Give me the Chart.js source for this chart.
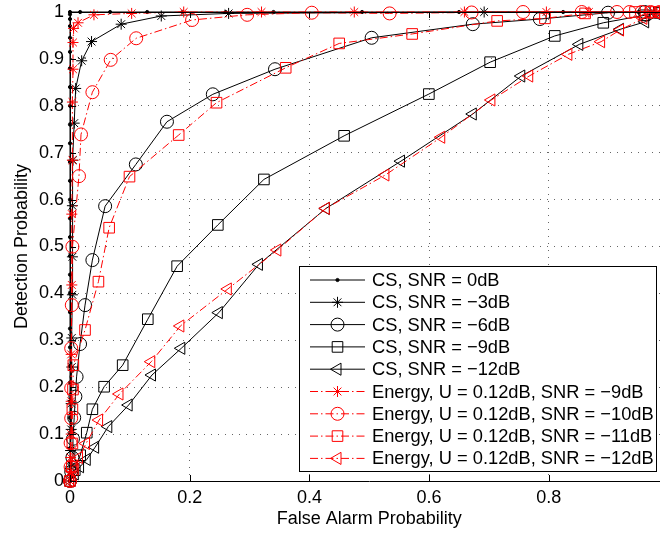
<!DOCTYPE html>
<html><head><meta charset="utf-8">
<script src="https://cdn.jsdelivr.net/npm/chart.js@4.4.0/dist/chart.umd.min.js"></script>
<style>html,body{margin:0;padding:0;overflow:hidden;background:#fff;width:660px;height:535px}#wrap{width:660px;height:535px;overflow:hidden;position:relative}#c{position:absolute;left:0;top:0}</style>
</head><body><div id="wrap"><canvas id="c" width="677" height="535"></canvas></div>
<script>
const xTickLabels = ['0','0.2','0.4','0.6','0.8','1'];
const yTickLabels = ['0','0.1','0.2','0.3','0.4','0.5','0.6','0.7','0.8','0.9','1'];
const xTitle = 'False Alarm Probability';
const yTitle = 'Detection Probability';
const seriesLabels = [
  'CS, SNR = 0dB','CS, SNR = \u22123dB','CS, SNR = \u22126dB','CS, SNR = \u22129dB','CS, SNR = \u221212dB',
  'Energy, U = 0.12dB, SNR = \u22129dB','Energy, U = 0.12dB, SNR = \u221210dB',
  'Energy, U = 0.12dB, SNR = \u221211dB','Energy, U = 0.12dB, SNR = \u221212dB'
];

const cs0_x = [0,0,0,0,0,0,0,0,0,0,0,0,0,0,0,0,0,0,0,0,0,0,0,0,0,0,0,0,0,0,0, 0.017,0.067,0.129,0.188,0.26,0.34,0.488,0.65,0.824,0.95,1];
const cs0_y = [0,0.015,0.04,0.07,0.1,0.135,0.17,0.21,0.245,0.285,0.325,0.36,0.4,0.44,0.48,0.52,0.56,0.6,0.64,0.68,0.72,0.76,0.8,0.84,0.88,0.915,0.945,0.97,0.985,0.995,1, 1,1,1,1,1,1,1,1,1,1,1];

const cs3_x = [0,0.001,0.001,0.002,0.002,0.003,0.003,0.004,0.004,0.004,0.005,0.007,0.0095,0.0195,0.036,0.0855,0.1525,0.265,0.692,0.975,1];
const cs3_y = [0,0.03,0.065,0.11,0.165,0.243,0.305,0.397,0.478,0.587,0.684,0.763,0.837,0.896,0.937,0.974,0.9915,0.997,1,1,1];

const cs6_x = [0,0.002,0.004,0.005,0.007,0.009,0.011,0.0168,0.0251,0.0374,0.0587,0.110,0.162,0.2386,0.3425,0.504,0.673,0.785,0.899,0.96,1];
const cs6_y = [0,0.02,0.05,0.09,0.135,0.18,0.222,0.292,0.375,0.471,0.586,0.675,0.766,0.8245,0.878,0.945,0.974,0.985,0.9985,1,1];

const cs9_x = [0,0.008,0.017,0.028,0.0374,0.057,0.088,0.130,0.179,0.247,0.324,0.458,0.5996,0.702,0.810,0.891,0.96,0.985,1];
const cs9_y = [0,0.023,0.055,0.103,0.153,0.201,0.247,0.345,0.458,0.546,0.643,0.736,0.825,0.893,0.949,0.977,0.993,0.998,1];

const cs12_x = [0,0.008,0.0168,0.028,0.042,0.064,0.098,0.137,0.186,0.2487,0.3157,0.4275,0.553,0.673,0.754,0.851,0.919,0.961,0.985,1];
const cs12_y = [0,0.015,0.0305,0.046,0.072,0.116,0.162,0.226,0.283,0.359,0.462,0.581,0.682,0.7825,0.8635,0.931,0.963,0.979,0.993,1];

const en9_x = [0,0.001,0.001,0.002,0.002,0.002,0.003,0.003,0.004,0.004,0.005,0.005,0.006,0.0134,0.04,0.103,0.19,0.32,0.475,0.659,0.796,0.867,0.97,0.985,1];
const en9_y = [0,0.02,0.05,0.1,0.17,0.27,0.418,0.569,0.684,0.808,0.878,0.935,0.965,0.977,0.994,0.997,1,1,1,1,1,1,1,1,1];

const en10_x = [0,0.001,0.001,0.002,0.002,0.002,0.003,0.004,0.015,0.0184,0.0374,0.068,0.1106,0.204,0.296,0.404,0.534,0.671,0.757,0.855,0.914,0.935,0.955,0.97,0.985,1];
const en10_y = [0,0.03,0.081,0.134,0.198,0.283,0.375,0.4995,0.650,0.739,0.829,0.898,0.944,0.983,0.994,0.9985,0.997,0.999,1,1,1,1,1,1,1,1];

const en11_x = [0,0.003,0.004,0.004,0.005,0.0056,0.0251,0.0475,0.0654,0.0994,0.1816,0.2448,0.3604,0.4498,0.5717,0.7137,0.7936,0.8606,0.944,0.97,0.985,1];
const en11_y = [0,0.03,0.08,0.153,0.195,0.247,0.322,0.425,0.540,0.649,0.7377,0.8066,0.881,0.933,0.9532,0.981,0.9865,0.997,1,1,1,1];

const en12_x = [0,0.008,0.015,0.0268,0.0486,0.0827,0.1358,0.1844,0.2637,0.3465,0.4275,0.527,0.6203,0.7041,0.7673,0.8327,0.8874,0.919,0.958,0.985,1];
const en12_y = [0,0.025,0.05,0.080,0.130,0.1855,0.2544,0.3305,0.4094,0.4925,0.5814,0.6525,0.733,0.8124,0.8635,0.9098,0.9367,0.9616,0.9865,0.995,1];

const FONT = '"Liberation Sans", Arial, Helvetica, sans-serif';
const pts = (xs, ys) => xs.map((x, i) => ({x, y: ys[i]}));
const DASHDOT = [8,3,1.5,3];

function mk(i, xs, ys, color, style, radius, dash, opts) {
  return Object.assign({
    label: seriesLabels[i], data: pts(xs, ys), showLine: true, tension: 0, fill: false,
    borderColor: color, borderWidth: 1, borderDash: dash,
    pointStyle: style, pointRadius: radius, pointBorderWidth: 1,
    pointBorderColor: color, pointBackgroundColor: 'rgba(0,0,0,0)',
    pointHoverRadius: radius, clip: false, order: 8 - i
  }, opts || {});
}

const datasets = [
  mk(0, cs0_x, cs0_y, '#000', 'circle', 1.6, [], {pointBackgroundColor: '#000'}),
  mk(1, cs3_x, cs3_y, '#000', 'star', 5.5, []),
  mk(2, cs6_x, cs6_y, '#000', 'circle', 6.5, []),
  mk(3, cs9_x, cs9_y, '#000', 'rect', 7.5, []),
  mk(4, cs12_x, cs12_y, '#000', 'triangle', 7, [], {pointRotation: -90}),
  mk(5, en9_x, en9_y, '#ff0000', 'star', 5.5, DASHDOT),
  mk(6, en10_x, en10_y, '#ff0000', 'circle', 6.5, DASHDOT),
  mk(7, en11_x, en11_y, '#ff0000', 'rect', 7.5, DASHDOT),
  mk(8, en12_x, en12_y, '#ff0000', 'triangle', 7, DASHDOT, {pointRotation: -90})
];

const framePlugin = {
  id: 'matlabFrame',
  afterDatasetsDraw(chart) {
    const ctx = chart.ctx, a = chart.chartArea;
    const xs = chart.scales.x, ys = chart.scales.y;
    ctx.save();
    ctx.strokeStyle = '#000'; ctx.lineWidth = 1; ctx.setLineDash([]);
    ctx.beginPath();
    ctx.moveTo(a.left, a.top + 0.5); ctx.lineTo(a.right, a.top + 0.5);
    ctx.moveTo(a.right - 0.5, a.top); ctx.lineTo(a.right - 0.5, a.bottom);
    xs.ticks.forEach(t => {
      const px = Math.round(xs.getPixelForValue(t.value)) + 0.5;
      ctx.moveTo(px, a.bottom); ctx.lineTo(px, a.bottom - 6);
      ctx.moveTo(px, a.top); ctx.lineTo(px, a.top + 6);
    });
    ys.ticks.forEach(t => {
      const py = Math.round(ys.getPixelForValue(t.value)) + 0.5;
      ctx.moveTo(a.left, py); ctx.lineTo(a.left + 6, py);
      ctx.moveTo(a.right, py); ctx.lineTo(a.right - 6, py);
    });
    ctx.stroke();
    // legend box
    const L = 299.5, T = 266.5, R = 656.5, B = 471.5;
    ctx.fillStyle = '#fff'; ctx.fillRect(L, T, R - L, B - T);
    ctx.strokeRect(L, T, R - L, B - T);
    ctx.font = '18.3px ' + FONT;
    ctx.textBaseline = 'middle'; ctx.textAlign = 'left';
    chart.data.datasets.forEach((ds, i) => {
      const y = 280 + i * 22.3;
      ctx.save();
      ctx.strokeStyle = ds.borderColor; ctx.lineWidth = 1;
      ctx.setLineDash(ds.borderDash || []);
      ctx.beginPath(); ctx.moveTo(310, y); ctx.lineTo(365, y); ctx.stroke();
      ctx.setLineDash([]);
      ctx.strokeStyle = ds.pointBorderColor; ctx.fillStyle = ds.pointBackgroundColor;
      Chart.helpers.drawPoint(ctx, {pointStyle: ds.pointStyle, radius: ds.pointRadius, rotation: ds.pointRotation || 0, borderWidth: 1}, 337.5, y);
      ctx.restore();
      ctx.fillStyle = '#000';
      ctx.fillText(ds.label, 372, y + 1);
    });
    ctx.restore();
  }
};

new Chart(document.getElementById('c'), {
  type: 'scatter',
  data: { datasets },
  options: {
    responsive: false, animation: false, devicePixelRatio: 1,
    layout: { padding: { left: 0, top: 12, right: 1.4, bottom: 0 } },
    plugins: { legend: { display: false }, tooltip: { enabled: false } },
    scales: {
      x: {
        type: 'linear', min: 0, max: 1,
        ticks: { stepSize: 0.2, padding: 6, color: '#000', font: { family: FONT, size: 18 }, maxRotation: 0, autoSkip: false,
          callback: (v, i) => xTickLabels[i] },
        grid: { color: '#666', lineWidth: 1, drawTicks: false },
        border: { display: true, color: '#000', width: 1, dash: [1, 6] },
        title: { display: true, text: xTitle, color: '#000', font: { family: FONT, size: 18 }, padding: { top: 0, bottom: 5 } },
        afterFit(s) { s.height = 54; s.paddingLeft = 0; s.paddingRight = 0; s.paddingTop = 0; s.paddingBottom = 0; }
      },
      y: {
        type: 'linear', min: 0, max: 1,
        ticks: { stepSize: 0.1, padding: 6, color: '#000', font: { family: FONT, size: 18 }, autoSkip: false,
          callback: (v, i) => yTickLabels[i] },
        grid: { color: '#666', lineWidth: 1, drawTicks: false },
        border: { display: true, color: '#000', width: 1, dash: [1, 6] },
        title: { display: true, text: yTitle, color: '#000', font: { family: FONT, size: 18 }, padding: { top: 11, bottom: 0 } },
        afterFit(s) { s.width = 70; s.paddingLeft = 0; s.paddingRight = 0; s.paddingTop = 0; s.paddingBottom = 0; }
      }
    }
  },
  plugins: [framePlugin]
});
</script>
</body></html>
